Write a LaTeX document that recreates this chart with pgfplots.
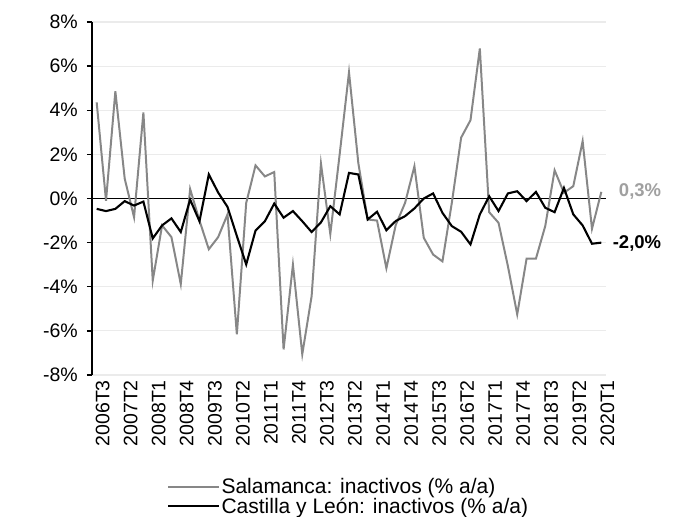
\documentclass[border=0pt]{standalone}
\usepackage{pgfplots}
\pgfplotsset{compat=1.18}
\usepackage{fontspec}
\setmainfont{Liberation Sans}
\definecolor{sala}{RGB}{135,135,135}
\definecolor{salalab}{RGB}{160,160,160}
\definecolor{gridc}{RGB}{235,235,235}
\pgfplotstableread{
i sal cyl
0 4.36 -0.47
1 -0.1 -0.57
2 4.86 -0.47
3 0.9 -0.12
4 -0.85 -0.32
5 3.9 -0.14
6 -3.72 -1.81
7 -1.22 -1.22
8 -1.75 -0.9
9 -3.88 -1.52
10 0.43 -0.05
11 -1.0 -1.03
12 -2.3 1.09
13 -1.75 0.27
14 -0.72 -0.38
15 -6.16 -1.7
16 -0.2 -2.99
17 1.5 -1.45
18 1.0 -1.03
19 1.2 -0.23
20 -6.84 -0.87
21 -3.0 -0.57
22 -7.06 -1.03
23 -4.43 -1.52
24 1.58 -1.08
25 -1.61 -0.35
26 2.0 -0.72
27 5.72 1.16
28 1.6 1.09
29 -0.95 -0.95
30 -1.0 -0.6
31 -3.16 -1.44
32 -1.2 -1.02
33 -0.2 -0.8
34 1.46 -0.45
35 -1.78 0.0
36 -2.54 0.23
37 -2.85 -0.65
38 -0.2 -1.25
39 2.76 -1.51
40 3.55 -2.08
41 6.8 -0.72
42 -0.62 0.1
43 -1.1 -0.57
44 -3.06 0.23
45 -5.25 0.33
46 -2.73 -0.12
47 -2.73 0.3
48 -1.25 -0.42
49 1.28 -0.62
50 0.26 0.48
51 0.56 -0.72
52 2.6 -1.22
53 -1.37 -2.05
54 0.3 -2.0
}\datatable
\begin{document}
\begin{tikzpicture}
\begin{axis}[
  at={(0,0)}, anchor=south west,
  scale only axis, width=514bp, height=353bp,
  xmin=-0.5, xmax=54.5, ymin=-8, ymax=8,
  clip=false,
  axis y line*=left, axis x line*=bottom,
  x axis line style={draw=none},
  y axis line style={draw=black, line width=1.7pt},
  xtick={0,3,...,54},
  xticklabels={2006T3,2007T2,2008T1,2008T4,2009T3,2010T2,2011T1,2011T4,2012T3,2013T2,2014T1,2014T4,2015T3,2016T2,2017T1,2017T4,2018T3,2019T2,2020T1},
  xtick style={draw=none},
  xticklabel style={rotate=90, anchor=east, font=\fontsize{19.5bp}{23bp}\selectfont, inner sep=0pt, yshift=-6bp},
  ytick={-8,-6,...,8},
  yticklabels={-8\%,-6\%,-4\%,-2\%,0\%,2\%,4\%,6\%,8\%},
  ytick style={draw=black, line width=1.4pt},
  tick align=outside, major tick length=5bp,
  yticklabel style={font=\fontsize{19.5bp}{23bp}\selectfont, inner sep=0pt, xshift=-9bp},
  ymajorgrids, grid style={gridc, line width=1.2pt},
  legend style={at={(0.146,-0.29)}, anchor=north west, draw=none, fill=none,
    font=\fontsize{21bp}{23bp}\selectfont, inner sep=0pt, row sep=0bp,
    nodes={inner sep=1.2pt}},
  legend cell align=left,
  legend image code/.code={\draw[#1] (0bp,0bp) -- (51bp,0bp);},
]
\addplot[black, line width=1.8pt, forget plot] coordinates {(-0.5,0) (54.5,0)};
\addplot[sala, line width=2pt] table[x=i, y=sal] {\datatable};
\addlegendentry{Salamanca: inactivos (\% a/a)}
\addplot[black, line width=2.1pt] table[x=i, y=cyl] {\datatable};
\addlegendentry{Castilla y León: inactivos (\% a/a)}
\node[anchor=east, text=salalab, font=\bfseries\fontsize{18.5bp}{22bp}\selectfont, inner sep=0pt] at ([xshift=60bp]axis cs:54,0.3) {0,3\%};
\node[anchor=east, text=black, font=\bfseries\fontsize{18.5bp}{22bp}\selectfont, inner sep=0pt] at ([xshift=60bp]axis cs:54,-2.05) {-2,0\%};
\end{axis}
\path[use as bounding box] (-92bp,-140bp) rectangle (586bp,375bp);
\end{tikzpicture}
\end{document}
